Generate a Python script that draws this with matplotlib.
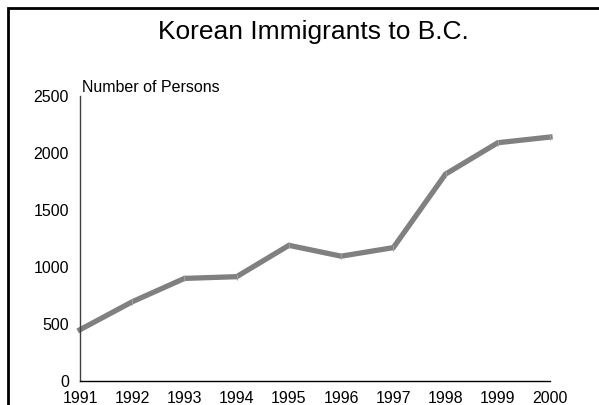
import matplotlib
matplotlib.use("Agg")
import matplotlib.pyplot as plt
from matplotlib.patches import Rectangle

years = [1991, 1992, 1993, 1994, 1995, 1996, 1997, 1998, 1999, 2000]
persons = [450, 695, 900, 915, 1190, 1095, 1170, 1815, 2090, 2140]
yticks = [0, 500, 1000, 1500, 2000, 2500]

plt.rcParams["font.family"] = ["Liberation Sans", "DejaVu Sans"]

W, H = 599, 405
fig = plt.figure(figsize=(W / 100, H / 100), dpi=100)
ax = fig.add_axes([80 / W, 1 - 381 / H, 470 / W, 285 / H])

ax.plot(years, persons, color="#808080", linewidth=3.8, solid_joinstyle="miter",
        marker="|", markersize=4, markeredgecolor="#a0a0a0", markeredgewidth=0.8,
        clip_on=False)

ax.set_xlim(1991, 2000)
ax.set_ylim(0, 2500)
ax.set_xticks(years)
ax.set_yticks(yticks)
ax.tick_params(length=0, labelsize=11.5)
ax.tick_params(axis="y", pad=8)
ax.tick_params(axis="x", pad=7)
for s in ["top", "right"]:
    ax.spines[s].set_visible(False)
ax.spines["left"].set_color("#404040")
ax.spines["bottom"].set_color("black")
ax.spines["left"].set_linewidth(1)
ax.spines["bottom"].set_linewidth(1)

ax.text(0.005, 1.005, "Number of Persons", transform=ax.transAxes, fontsize=11.5,
        ha="left", va="bottom")
fig.text(313 / W, 1 - 32 / H, "Korean Immigrants to B.C.", fontsize=19,
         ha="center", va="center")

fig.patches.append(Rectangle((7.5 / W, -0.1), 1.2, 1 - 7.5 / H + 0.1,
                             transform=fig.transFigure, fill=False,
                             edgecolor="black", linewidth=2))

fig.savefig("out.png", dpi=100)
